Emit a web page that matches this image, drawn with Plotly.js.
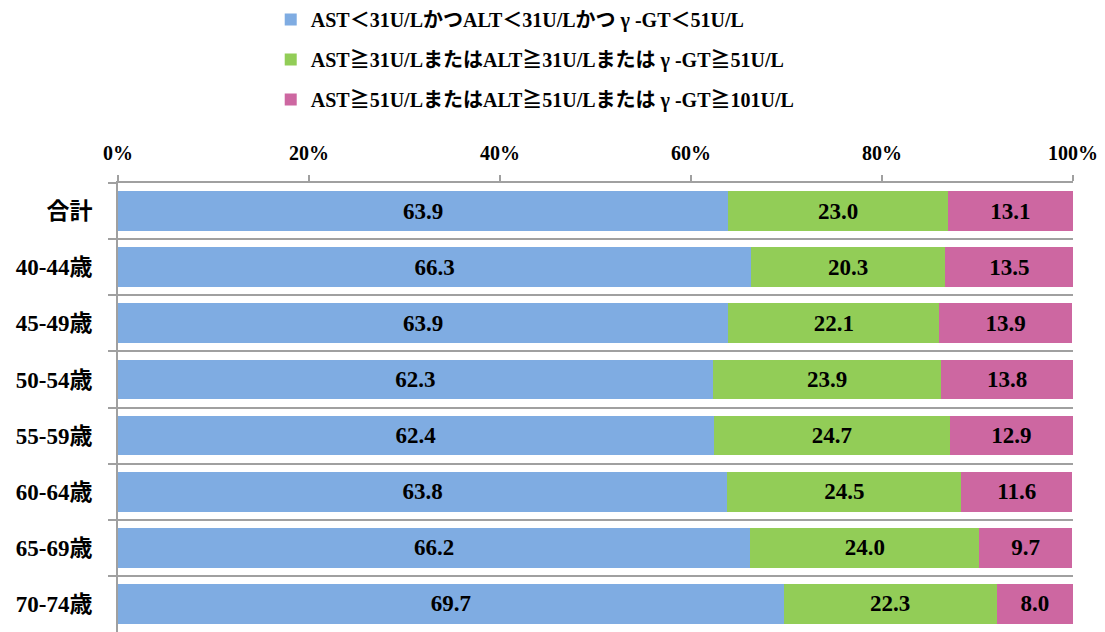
<!DOCTYPE html>
<html>
<head>
<meta charset="utf-8">
<script src="https://cdn.plot.ly/plotly-3.0.1.min.js"></script>
<style>html,body{margin:0;padding:0;background:#fff;}#chart{width:1105px;height:632px;}</style>
</head>
<body>
<div id="chart"></div>
<script>
const categories = ['合計','40-44歳','45-49歳','50-54歳','55-59歳','60-64歳','65-69歳','70-74歳'];
const seriesNames = [
  'AST＜31U/LかつALT＜31U/Lかつ γ -GT＜51U/L',
  'AST≧31U/LまたはALT≧31U/Lまたは γ -GT≧51U/L',
  'AST≧51U/LまたはALT≧51U/Lまたは γ -GT≧101U/L'
];
const normal = [63.9, 66.3, 63.9, 62.3, 62.4, 63.8, 66.2, 69.7];
const mild   = [23.0, 20.3, 22.1, 23.9, 24.7, 24.5, 24.0, 22.3];
const high   = [13.1, 13.5, 13.9, 13.8, 12.9, 11.6,  9.7,  8.0];
const xTicks = [0, 20, 40, 60, 80, 100];

const FONT = '"Liberation Serif", "Noto Sans CJK JP", serif';
const colors = ['#7FACE2', '#92CD57', '#CD67A1'];
const values = [normal, mild, high];

const traces = values.map((v, i) => ({
  type: 'bar',
  orientation: 'h',
  name: seriesNames[i],
  y: categories,
  x: v,
  marker: {color: colors[i], line: {width: 0}},
  text: v.map(d => d.toFixed(1)),
  texttemplate: '%{text}',
  textposition: 'inside',
  insidetextanchor: 'middle',
  textangle: 0,
  constraintext: 'none',
  textfont: {family: FONT, size: 23, color: '#000', weight: 'bold'},
  legendgroup: 'g' + i,
  hoverinfo: 'skip'
}));

const layout = {
  width: 1105,
  height: 632,
  margin: {l: 118, r: 32, t: 183, b: 0, pad: 0, autoexpand: false},
  barmode: 'stack',
  bargap: 0.29,
  paper_bgcolor: '#fff',
  plot_bgcolor: '#fff',
  font: {family: FONT, color: '#000', size: 20, weight: 'bold'},
  showlegend: true,
  legend: {
    xref: 'container', yref: 'container',
    x: 0.245, y: 1.0, xanchor: 'left', yanchor: 'top',
    orientation: 'v',
    font: {family: FONT, size: 20, color: '#000', weight: 'bold'},
    tracegroupgap: 11,
    itemwidth: 30,
    traceorder: 'grouped',
    bgcolor: 'rgba(0,0,0,0)'
  },
  xaxis: {
    side: 'top',
    range: [0, 100],
    tickvals: xTicks,
    ticktext: xTicks.map(t => t + '%'),
    ticks: 'outside', ticklen: 6, tickwidth: 2, tickcolor: '#a0a0a0',
    showline: true, linecolor: '#a0a0a0', linewidth: 2,
    showgrid: false, zeroline: false,
    tickfont: {family: FONT, size: 20, color: '#000', weight: 'bold'},
    ticklabelstandoff: 7,
    fixedrange: true
  },
  yaxis: {
    type: 'category',
    categoryorder: 'array',
    categoryarray: categories,
    autorange: 'reversed',
    tickson: 'boundaries',
    ticks: 'outside', ticklen: 8, tickwidth: 2, tickcolor: '#a0a0a0',
    showgrid: true, gridcolor: '#a0a0a0', gridwidth: 2,
    showline: true, linecolor: '#a0a0a0', linewidth: 2,
    zeroline: false,
    tickfont: {family: FONT, size: 23, color: '#000', weight: 'bold'},
    ticklabelstandoff: 19,
    fixedrange: true
  }
};

Plotly.newPlot('chart', traces, layout, {displayModeBar: false, staticPlot: true});
</script>
</body>
</html>
